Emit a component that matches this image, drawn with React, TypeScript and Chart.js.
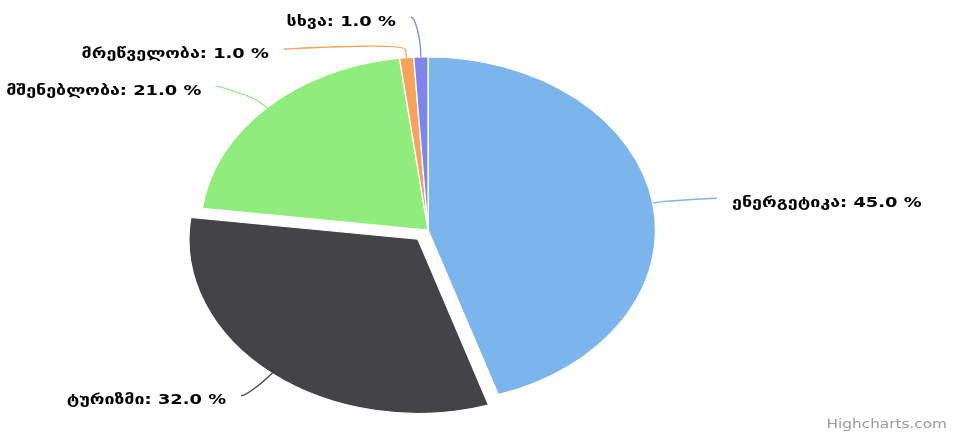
import React, { useEffect, useRef } from "react";
import { Chart, ArcElement, PieController } from "chart.js";

Chart.register(ArcElement, PieController);

// ---- data ----
const categories = ["ენერგეტიკა", "ტურიზმი", "მშენებლობა", "მრეწველობა", "სხვა"];
const shares = [45.0, 32.0, 21.0, 1.0, 1.0];
const slicedFlags = [false, true, false, false, false];
const sliceColors = ["#7cb5ec", "#434348", "#90ed7d", "#f7a35c", "#8085e9"];

// ---- layout / style ----
const W = 953;
const H = 437;
const STRETCH_X = 1.315; // horizontal stretch of the pie (ellipse)
const TEXT_STRETCH = 1.275; // horizontal stretch of the texts
const SLICE_SHIFT = 12; // visible shift of the sliced point, px
const OFFSET_DIVISOR = 4; // Chart.js 4 arc draws offset / 4
const LABEL_DIST = 30;
const LABEL_X_EXTRA = 5;
const LABEL_DX = 65;
const LABEL_GAP = 32;
const LABEL_MIN_Y = 17;
const CONNECTOR_OFFSET = 8;
const TEXT_GAP = 15;
const LABEL_FONT = 'bold 14px "DejaVu Sans"';
const CREDIT_FONT = '12px "DejaVu Sans"';

type LabelItem = {
  i: number;
  side: number;
  ny: number;
  y: number;
  edge: { x: number; y: number };
  brk: { x: number; y: number };
  cx: number;
  cy: number;
  oxs: number;
  r: number;
};

function distribute(items: LabelItem[]) {
  const sorted = [...items].sort((a, b) => a.ny - b.ny);
  let groups = sorted.map((it) => ({ items: [it], top: it.ny }));
  let merged = true;
  while (merged) {
    merged = false;
    for (let k = 0; k < groups.length - 1; k++) {
      const a = groups[k];
      const b = groups[k + 1];
      const aEnd = a.top + (a.items.length - 1) * LABEL_GAP;
      if (b.top - aEnd < LABEL_GAP) {
        const its = [...a.items, ...b.items];
        const top = its.reduce((s, it, j) => s + (it.ny - j * LABEL_GAP), 0) / its.length;
        groups.splice(k, 2, { items: its, top });
        merged = true;
        break;
      }
    }
  }
  let prevEnd = -Infinity;
  groups.forEach((g) => {
    g.top = Math.max(g.top, LABEL_MIN_Y, prevEnd + LABEL_GAP);
    g.items.forEach((it, j) => (it.y = g.top + j * LABEL_GAP));
    prevEnd = g.top + (g.items.length - 1) * LABEL_GAP;
  });
}

function stretchedText(
  ctx: CanvasRenderingContext2D,
  text: string,
  x: number,
  y: number,
  align: CanvasTextAlign
) {
  ctx.save();
  ctx.translate(x, y);
  ctx.scale(TEXT_STRETCH, 1);
  ctx.textAlign = align;
  ctx.fillText(text, 0, 0);
  ctx.restore();
}

const ellipsePlugin = {
  id: "ellipseStretch",
  beforeDatasetsDraw(chart: any) {
    const arc = chart.getDatasetMeta(0).data[0];
    if (!arc) return;
    const ctx = chart.ctx;
    ctx.save();
    ctx.translate(arc.x, 0);
    ctx.scale(STRETCH_X, 1);
    ctx.translate(-arc.x, 0);
  },
  afterDatasetsDraw(chart: any) {
    if (!chart.getDatasetMeta(0).data[0]) return;
    chart.ctx.restore();
  },
};

const labelPlugin = {
  id: "pieLabels",
  afterDraw(chart: any) {
    const ctx: CanvasRenderingContext2D = chart.ctx;
    const arcs = chart.getDatasetMeta(0).data;
    const items: LabelItem[] = arcs.map((arc: any, i: number) => {
      const p = arc.getProps(["x", "y", "startAngle", "endAngle", "outerRadius"], true);
      const shift = (arc.options.offset || 0) / OFFSET_DIVISOR;
      const mid = (p.startAngle + p.endAngle) / 2;
      const c = Math.cos(mid);
      const s = Math.sin(mid);
      const ox = c * shift;
      const oy = s * shift;
      const mapX = (px: number) => p.x + (px - p.x) * STRETCH_X;
      const edge = { x: mapX(p.x + ox + c * p.outerRadius), y: p.y + oy + s * p.outerRadius };
      const brk = {
        x: mapX(p.x + ox + c * (p.outerRadius + CONNECTOR_OFFSET)),
        y: p.y + oy + s * (p.outerRadius + CONNECTOR_OFFSET),
      };
      const ny = p.y + oy + s * (p.outerRadius + LABEL_DIST);
      return {
        i,
        side: c < 0 ? -1 : 1,
        ny,
        y: ny,
        edge,
        brk,
        cx: p.x,
        cy: p.y,
        oxs: ox * STRETCH_X,
        r: p.outerRadius,
      };
    });
    distribute(items.filter((it) => it.side < 0));
    distribute(items.filter((it) => it.side > 0));

    ctx.save();
    ctx.font = LABEL_FONT;
    ctx.textBaseline = "alphabetic";
    items.forEach((it) => {
      const t = Math.max(-1, Math.min(1, (it.y - it.cy) / (it.r + LABEL_DIST + LABEL_X_EXTRA)));
      const rx = it.r * STRETCH_X + LABEL_DX;
      let lx = it.cx + it.side * Math.sqrt(1 - t * t) * rx + it.oxs;
      if (it.side < 0) lx = Math.min(lx, it.edge.x - 10);
      else lx = Math.max(lx, it.edge.x + 10);
      const ly = it.y;
      // soft connector
      ctx.beginPath();
      ctx.moveTo(lx, ly);
      ctx.bezierCurveTo(
        lx - it.side * 5,
        ly,
        2 * it.brk.x - it.edge.x,
        2 * it.brk.y - it.edge.y,
        it.brk.x,
        it.brk.y
      );
      ctx.lineTo(it.edge.x, it.edge.y);
      ctx.strokeStyle = sliceColors[it.i];
      ctx.lineWidth = 1.3;
      ctx.stroke();
      // text
      const text = `${categories[it.i]}: ${shares[it.i].toFixed(1)} %`;
      ctx.fillStyle = "#000000";
      stretchedText(ctx, text, lx + it.side * TEXT_GAP, ly + 8.5, it.side < 0 ? "right" : "left");
    });
    // credits
    ctx.font = CREDIT_FONT;
    ctx.fillStyle = "#999999";
    stretchedText(ctx, "Highcharts.com", W - 6, H - 9, "right");
    ctx.restore();
  },
};

export default function App() {
  const canvasRef = useRef<HTMLCanvasElement | null>(null);

  useEffect(() => {
    const canvas = canvasRef.current;
    if (!canvas) return;
    const chart = new Chart(canvas, {
      type: "pie",
      data: {
        labels: categories,
        datasets: [
          {
            data: shares,
            backgroundColor: sliceColors,
            borderColor: "#ffffff",
            borderWidth: 1,
            offset: slicedFlags.map((f) => (f ? SLICE_SHIFT * OFFSET_DIVISOR : 0)),
            clip: false as any,
          },
        ],
      },
      options: {
        responsive: false,
        animation: false,
        events: [],
        layout: {
          padding: { left: 0, right: 97, top: 32.5, bottom: 9.5 },
        },
        plugins: {
          legend: { display: false },
          tooltip: { enabled: false },
        },
      },
      plugins: [ellipsePlugin, labelPlugin],
    });
    return () => chart.destroy();
  }, []);

  return (
    <div style={{ position: "fixed", left: 0, top: 0, width: W, height: H, background: "#ffffff" }}>
      <canvas ref={canvasRef} width={W} height={H} style={{ width: W, height: H, display: "block" }} />
    </div>
  );
}
